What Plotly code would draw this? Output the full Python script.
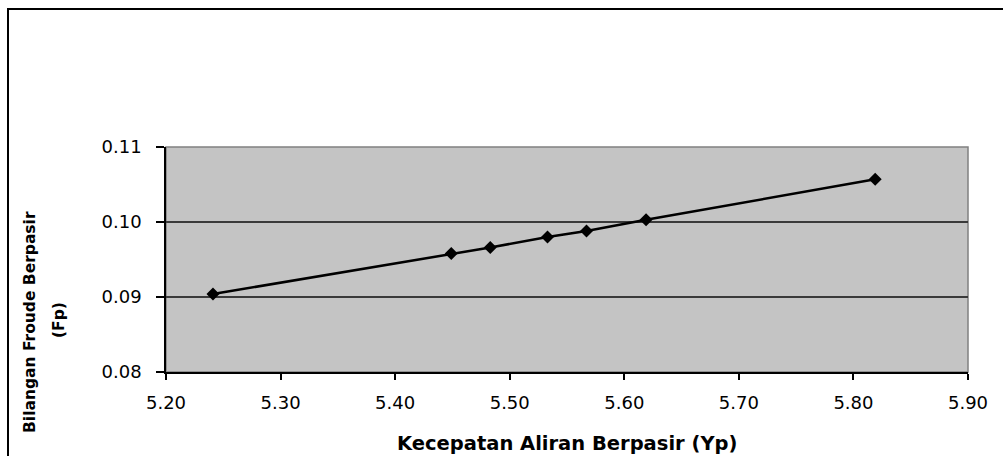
import plotly.graph_objects as go

# Sand-laden flow velocity (Yp) vs sand Froude number (Fp)
yp = [5.241, 5.449, 5.483, 5.533, 5.567, 5.619, 5.819]
fp = [0.0904, 0.0958, 0.0966, 0.0980, 0.0988, 0.1003, 0.1057]

x_ticks = [5.20, 5.30, 5.40, 5.50, 5.60, 5.70, 5.80, 5.90]
y_ticks = [0.08, 0.09, 0.10, 0.11]

W, H = 1003, 456
ML, MR, MT, MB = 166, 35, 147, 84
pw, ph = W - ML - MR, H - MT - MB


def px_to_paper_x(px):
    return (px - ML) / pw


def px_to_paper_y(py):
    return (H - MB - py) / ph


fig = go.Figure()
fig.add_trace(go.Scatter(
    x=yp, y=fp, mode="lines+markers",
    line=dict(color="black", width=2.5),
    marker=dict(symbol="diamond", size=10, color="black"),
    showlegend=False, hoverinfo="x+y",
))

tick_font = dict(family="DejaVu Sans", size=18, color="black")

fig.update_xaxes(
    range=[5.20, 5.90], tickvals=x_ticks,
    ticktext=[f"{v:.2f}" for v in x_ticks],
    showgrid=False, zeroline=False,
    showline=True, linecolor="black", linewidth=1.5,
    ticks="outside", ticklen=6, tickwidth=1.5, tickcolor="black",
    tickfont=tick_font, ticklabelstandoff=8,
)
fig.update_yaxes(
    range=[0.08, 0.11], tickvals=y_ticks,
    ticktext=[f"{v:.2f}" for v in y_ticks],
    showgrid=True, gridcolor="#3a3a3a", gridwidth=1.5,
    zeroline=False,
    showline=True, linecolor="black", linewidth=1.5,
    ticks="outside", ticklen=8, tickwidth=1.5, tickcolor="black",
    tickfont=tick_font, ticklabelstandoff=11,
)

shapes = [
    # plot-area border (top/right in grey)
    dict(type="rect", xref="paper", yref="paper", x0=0, y0=0, x1=1, y1=1,
         line=dict(color="#808080", width=1.5), layer="below"),
    # outer chart frame
    dict(type="rect", xref="paper", yref="paper",
         x0=px_to_paper_x(8), y0=px_to_paper_y(470),
         x1=px_to_paper_x(1020), y1=px_to_paper_y(9),
         line=dict(color="black", width=2)),
]

annotations = [
    dict(text="<b>Kecepatan Aliran Berpasir (Yp)</b>", xref="paper", yref="paper",
         x=0.5, y=px_to_paper_y(443), xanchor="center", yanchor="middle",
         showarrow=False,
         font=dict(family="DejaVu Sans", size=19.5, color="black")),
    dict(text="<b>Bilangan Froude Berpasir</b>", xref="paper", yref="paper",
         x=px_to_paper_x(30), y=px_to_paper_y(322), textangle=-90,
         xanchor="center", yanchor="middle", showarrow=False,
         font=dict(family="DejaVu Sans", size=15.5, color="black")),
    dict(text="<b>(Fp)</b>", xref="paper", yref="paper",
         x=px_to_paper_x(59), y=px_to_paper_y(320), textangle=-90,
         xanchor="center", yanchor="middle", showarrow=False,
         font=dict(family="DejaVu Sans", size=15.5, color="black")),
]

fig.update_layout(
    width=W, height=H,
    margin=dict(l=ML, r=MR, t=MT, b=MB),
    paper_bgcolor="white", plot_bgcolor="#c4c4c4",
    shapes=shapes, annotations=annotations,
)

fig.write_html("out.html")
